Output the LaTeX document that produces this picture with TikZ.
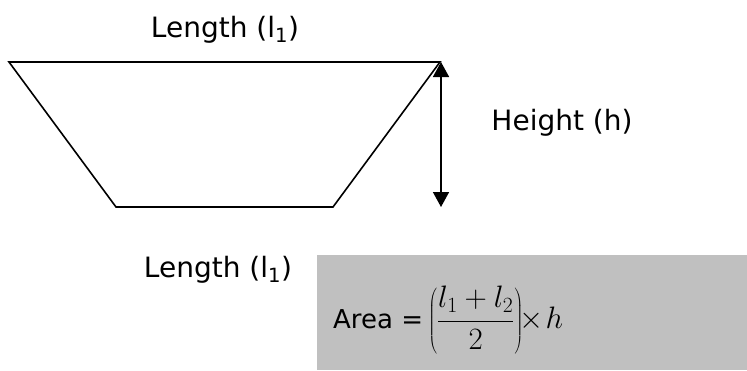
\RequirePackage{fix-cm}
\documentclass[tikz,border=0pt]{standalone}
\usepackage{fontspec}
\setmainfont{DejaVu Sans}
\usetikzlibrary{arrows.meta}
\begin{document}
\begin{tikzpicture}[x=1pt,y=-1pt,
  edge/.style={line width=1.6pt,line join=miter},
  lbl/.style={inner sep=0pt,font=\fontsize{28}{33}\selectfont},
  dim/.style={line width=1.6pt,{Triangle[width=16pt,length=15pt]}-{Triangle[width=16pt,length=15pt]}}]
\useasboundingbox (0,0) rectangle (747,370);
\coordinate (tl) at (9,62);
\coordinate (tr) at (440,62);
\coordinate (br) at (333,207);
\coordinate (bl) at (116,207);
\draw[edge] (tl) -- (tr) -- (br) -- (bl) -- cycle;
\coordinate (htop) at (441,62);
\coordinate (hbot) at (441,207);
\draw[dim] (htop) -- (hbot);
\node[lbl] (top) at (225,30) {Length (l\textsubscript{1})};
\node[lbl] (hgt) at (562,123) {Height (h)};
\node[lbl] (bot) at (218,270) {Length (l\textsubscript{1})};
\fill[fill={rgb,255:red,192;green,192;blue,192}] (317,255) rectangle (747,370);
\node[inner sep=0pt,anchor=west,font=\fontsize{26}{31}\selectfont] (area) at (333,320)
  {Area =\hspace{0.2em}\fontsize{31}{37}\selectfont$\displaystyle\left(\frac{l_1+l_2}{2}\right)\!\!\times\! h$};
\end{tikzpicture}
\end{document}
